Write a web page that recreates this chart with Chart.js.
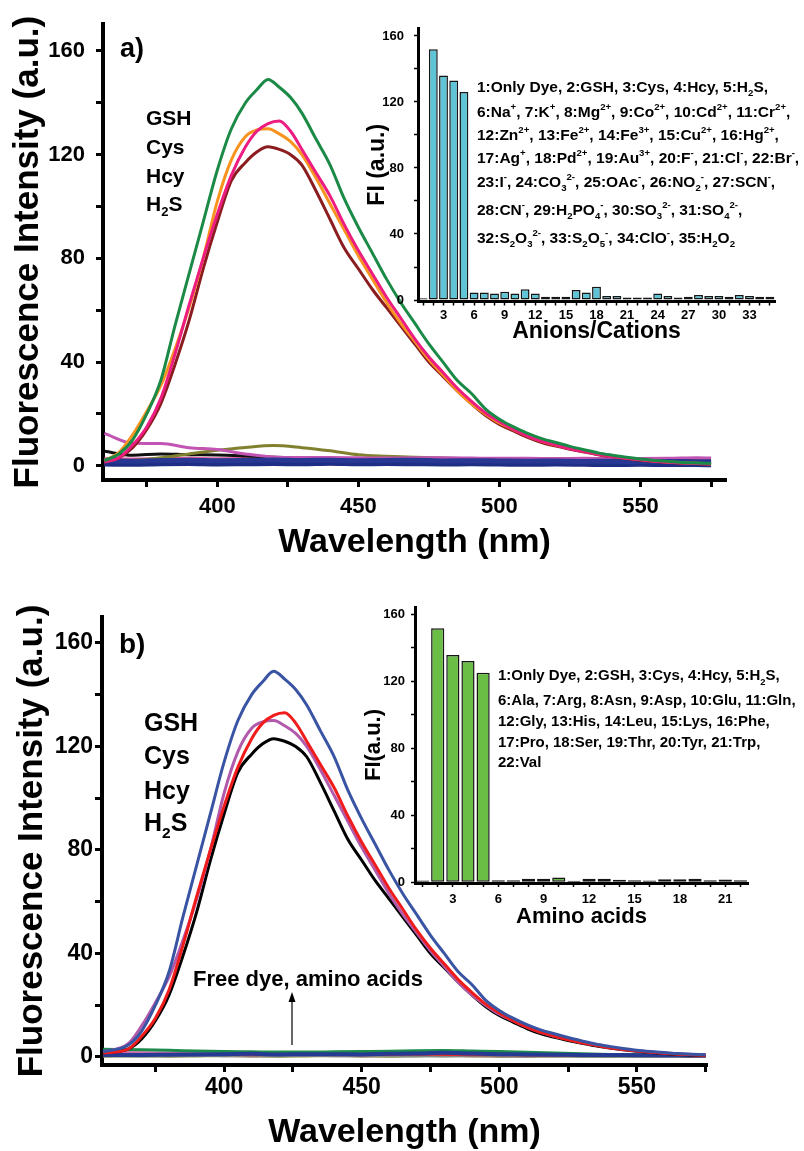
<!DOCTYPE html>
<html>
<head>
<meta charset="utf-8">
<script src="https://cdn.jsdelivr.net/npm/chart.js@4.4.1/dist/chart.umd.min.js"></script>
<style>
  body { margin: 0; background: #fff; }
  #wrap { position: relative; width: 804px; height: 1151px; overflow: hidden; background: #fff; }
  canvas { position: absolute; }
</style>
</head>
<body>
<div id="wrap">
  <canvas id="mainA" width="804" height="575" style="left:0;top:0"></canvas>
  <canvas id="mainB" width="804" height="571" style="left:0;top:580px"></canvas>
  <canvas id="insetA" width="464" height="340" style="left:340px;top:10px"></canvas>
  <canvas id="insetB" width="464" height="340" style="left:340px;top:590px"></canvas>
</div>
<script>
const FONT = '"Liberation Sans", Arial, Helvetica, sans-serif';

// wavelength grid (nm) of the four strong spectra
const wl  = [360,365,370,375,380,385,390,395,400,405,410,414,418,422,426,430,435,440,445,450,455,460,465,470,475,480,485,490,495,500,505,510,515,520,525,530,535,540,545,550,555,560,565,570,575];
// panel b traces start right at the left axis
const wlB = [356,365,370,375,380,385,390,395,400,405,410,414,418,422,426,430,435,440,445,450,455,460,465,470,475,480,485,490,495,500,505,510,515,520,525,530,535,540,545,550,555,560,565,570,575];

const gsh = [2,4.5,10,20,33,54,74,94,114,130,140,145,149,146,142,136,126,116,103,92,82,72,63,55,47,40,33,28,22,18,15,12.5,10.5,9,7.5,6.2,5,4.1,3.3,2.6,2.1,1.7,1.3,1.1,0.9];
const cys = [1.5,3,8,15,26,43,62,80,97,112,123,129,132,133,129,122,113,104,93,83,74,65,57,49,42,36,30,25,20.5,17,14,11.5,9.5,8,6.6,5.5,4.5,3.6,2.9,2.3,1.8,1.4,1.1,0.9,0.7];
const hcy = [2,5,12,21,31,45,61,80,102,118,127,129.5,130,128,125,120,111,101,91,81,72,63,55,48,41,35,29,24,20,16.5,14,11.5,9.5,8,6.8,5.6,4.6,3.7,3,2.4,1.9,1.5,1.2,1,0.8];
const h2s = [1.5,3,7,14,24,39,56,76,94,110,117,121,123,122,120,116,106,95,84,76,68,61,54,47,40,34.5,29,24,19.5,16,13.5,11,9,7.6,6.4,5.3,4.3,3.5,2.8,2.2,1.7,1.3,1,0.8,0.6];

// weak traces (other analytes), coarser grid
const lowWl  = [360,370,380,390,400,410,420,430,440,450,460,470,480,490,500,510,520,530,540,550,560,570,575];
const lowWlB = [356,370,380,390,400,410,420,430,440,450,460,470,480,490,500,510,520,530,540,550,560,570,575];

const lowA_orchid = [12.5,8.7,8.6,7.0,6.3,4.6,3.4,3.2,3.2,3.1,3.0,3.1,3.1,3.0,2.9,2.9,2.8,2.9,2.8,2.8,2.9,3.1,3.0];
const lowA_olive  = [1.5,2.0,3.1,4.6,6.0,7.1,7.8,7.0,5.8,4.3,3.7,3.3,3.0,2.8,2.6,2.4,2.3,2.2,2.0,1.9,1.9,1.8,1.8];
const lowA_black  = [5.6,4.1,4.6,4.3,4.2,3.8,3.3,3.0,2.8,2.6,2.5,2.5,2.4,2.3,2.2,2.1,2.0,2.0,1.9,1.9,1.8,1.8,1.8];
const lowA_pink   = [2.8,2.6,2.7,2.9,2.7,2.8,3.0,2.8,2.9,2.7,2.8,2.9,2.7,2.6,2.7,2.5,2.6,2.4,2.5,2.4,2.6,2.7,2.6];
const lowA_teal   = [1.8,2.0,1.9,2.1,2.0,2.2,2.0,2.1,2.3,2.0,2.1,1.9,2.0,2.2,1.9,2.0,1.8,1.9,1.7,1.8,1.7,1.6,1.6];
const lowA_green  = [2.4,2.2,2.3,2.1,2.4,2.3,2.2,2.5,2.3,2.2,2.4,2.1,2.3,2.2,2.0,2.1,1.9,2.0,1.8,1.9,1.7,1.8,1.7];
const lowA_red    = [0.6,0.8,0.7,0.9,0.7,0.8,1.0,0.7,0.8,0.6,0.9,0.7,0.8,0.6,0.7,0.8,0.6,0.7,0.5,0.6,0.5,0.6,0.5];
const lowA_gray   = [1.2,1.4,1.3,1.5,1.4,1.3,1.6,1.4,1.5,1.3,1.4,1.5,1.3,1.4,1.2,1.3,1.1,1.2,1.1,1.0,1.1,1.0,1.0];
const lowA_navy1  = [2.0,1.8,2.1,2.2,2.0,2.1,2.3,2.1,2.2,2.0,2.1,2.2,1.9,2.0,1.9,1.8,1.9,1.7,1.8,1.6,1.7,1.6,1.6];
const lowA_navy2  = [0.7,0.6,0.8,0.9,0.7,0.8,0.9,0.8,1.0,0.8,0.9,0.8,0.7,0.8,0.7,0.6,0.7,0.6,0.5,0.6,0.5,0.5,0.4];

const lowB_green = [3.0,2.8,2.6,2.3,2.1,2.0,1.9,1.9,2.0,2.1,2.2,2.4,2.5,2.3,2.1,1.8,1.5,1.2,1.0,0.9,0.8,0.7,0.7];
const lowB_pink  = [1.8,1.6,1.5,1.4,1.5,1.6,1.5,1.4,1.6,1.7,1.8,1.9,1.8,1.6,1.4,1.3,1.2,1.0,0.9,0.8,0.8,0.7,0.7];
const lowB_red   = [1.0,0.9,1.0,1.1,1.0,0.9,1.0,1.1,1.0,0.9,1.0,1.1,1.0,0.9,0.9,0.8,0.8,0.7,0.7,0.6,0.6,0.5,0.5];
const lowB_gray  = [0.5,0.4,0.5,0.6,0.5,0.4,0.5,0.6,0.5,0.4,0.5,0.5,0.4,0.5,0.4,0.3,0.4,0.3,0.3,0.3,0.2,0.2,0.2];
const lowB_olive = [0.3,0.4,0.3,0.4,0.5,0.4,0.3,0.4,0.5,0.4,0.3,0.4,0.5,0.4,0.3,0.3,0.4,0.3,0.2,0.3,0.2,0.2,0.2];
const lowB_navy  = [0.8,0.8,0.9,1.0,1.1,1.2,1.0,1.1,1.1,1.0,1.2,1.3,1.6,1.3,1.1,1.0,0.9,0.8,0.8,0.7,0.7,0.6,0.6];

// inset bar charts (FI at peak)
const ionLabels = ['1','2','3','4','5','6','7','8','9','10','11','12','13','14','15','16','17','18','19','20','21','22','23','24','25','26','27','28','29','30','31','32','33','34','35'];
const ionFI = [1,152,136,133,126,4.5,4.5,4,5,4,6.5,4,2,2,2,6,4.5,8,2.5,2.5,1.5,1.5,1.5,4,2.5,1.5,2,3,2.5,2.5,2,3,2.5,2,2];
const aminoLabels = ['1','2','3','4','5','6','7','8','9','10','11','12','13','14','15','16','17','18','19','20','21','22'];
const aminoFI = [1,151.5,135.5,132,125,1.2,1.2,2,2,2.8,0.8,2,2,1.5,1.2,1,1.8,1.8,2,1.2,1.6,1.2];

const ionText = [
  '1:Only Dye, 2:GSH, 3:Cys, 4:Hcy, 5:H_{2}S,',
  '6:Na^{+}, 7:K^{+}, 8:Mg^{2+}, 9:Co^{2+}, 10:Cd^{2+}, 11:Cr^{2+},',
  '12:Zn^{2+}, 13:Fe^{2+}, 14:Fe^{3+}, 15:Cu^{2+}, 16:Hg^{2+},',
  '17:Ag^{+}, 18:Pd^{2+}, 19:Au^{3+}, 20:F^{-}, 21:Cl^{-}, 22:Br^{-},',
  '23:I^{-}, 24:CO_{3}^{2-}, 25:OAc^{-}, 26:NO_{2}^{-}, 27:SCN^{-},',
  '28:CN^{-}, 29:H_{2}PO_{4}^{-}, 30:SO_{3}^{2-}, 31:SO_{4}^{2-},',
  '32:S_{2}O_{3}^{2-}, 33:S_{2}O_{5}^{-}, 34:ClO^{-}, 35:H_{2}O_{2}'
];
const aminoText = [
  '1:Only Dye, 2:GSH, 3:Cys, 4:Hcy, 5:H_{2}S,',
  '6:Ala, 7:Arg, 8:Asn, 9:Asp, 10:Glu, 11:Gln,',
  '12:Gly, 13:His, 14:Leu, 15:Lys, 16:Phe,',
  '17:Pro, 18:Ser, 19:Thr, 20:Tyr, 21:Trp,',
  '22:Val'
];
const analytes = ['GSH', 'Cys', 'Hcy', 'H_{2}S'];

Chart.defaults.font.family = FONT;
Chart.defaults.font.weight = 'bold';
Chart.defaults.color = '#000';

function pts(xs, ys) {
  return xs.map((x, i) => ({ x: x, y: ys[i] }));
}

function line(xs, ys, color, width) {
  return {
    data: pts(xs, ys),
    borderColor: color,
    borderWidth: width || 3,
    pointRadius: 0,
    fill: false,
    cubicInterpolationMode: 'monotone'
  };
}

// text with _{sub} and ^{sup} parts
function drawRich(ctx, str, x, y, size) {
  let cx = x;
  let i = 0;
  while (i < str.length) {
    let seg, mode = 0;
    const ch = str[i];
    if ((ch === '_' || ch === '^') && str[i + 1] === '{') {
      const end = str.indexOf('}', i);
      seg = str.slice(i + 2, end);
      mode = ch === '_' ? 1 : -1;
      i = end + 1;
    } else {
      let j = i;
      while (j < str.length && !((str[j] === '_' || str[j] === '^') && str[j + 1] === '{')) j++;
      seg = str.slice(i, j);
      i = j;
    }
    const fs = mode ? size * 0.62 : size;
    ctx.font = 'bold ' + fs + 'px ' + FONT;
    const dy = mode === 1 ? size * 0.28 : (mode === -1 ? -size * 0.42 : 0);
    ctx.fillText(seg, cx, y + dy);
    cx += ctx.measureText(seg).width;
  }
}

function textPlugin(items, offX, offY, extra) {
  return {
    id: 'freeText',
    afterDraw(chart) {
      const ctx = chart.ctx;
      ctx.save();
      ctx.fillStyle = '#000';
      ctx.textAlign = 'left';
      ctx.textBaseline = 'alphabetic';
      items.forEach(t => drawRich(ctx, t.text, t.x - offX, t.y - offY + t.size * 0.36, t.size));
      if (extra) extra(ctx);
      ctx.restore();
    }
  };
}

function mainChart(id, cfg) {
  return new Chart(document.getElementById(id), {
    type: 'line',
    data: { datasets: cfg.datasets },
    options: {
      responsive: false,
      animation: false,
      events: [],
      layout: { padding: { left: 0, top: cfg.top, right: cfg.right, bottom: 0 } },
      plugins: { legend: { display: false }, tooltip: { enabled: false } },
      scales: {
        x: {
          type: 'linear',
          min: cfg.xMin,
          max: cfg.xMax,
          afterFit: s => { s.height = cfg.xH; },
          border: { display: true, color: '#000', width: 4 },
          grid: { drawOnChartArea: false, drawTicks: true, tickLength: 7, tickWidth: 3, tickColor: '#000' },
          ticks: {
            stepSize: 25, includeBounds: false, autoSkip: false, maxRotation: 0,
            padding: cfg.xTickPad, color: '#000',
            font: { size: cfg.tickSize, weight: 'bold' },
            callback: v => (v % 50 === 0 ? v : '')
          },
          title: {
            display: true, text: 'Wavelength (nm)', color: '#000',
            font: { size: cfg.titleSize, weight: 'bold', lineHeight: 1 },
            padding: { top: 0, bottom: cfg.xTitlePad }
          }
        },
        y: {
          min: cfg.yMin,
          max: cfg.yMax,
          afterFit: s => { s.width = cfg.yW; },
          border: { display: true, color: '#000', width: 4 },
          grid: { drawOnChartArea: false, drawTicks: true, tickLength: 7, tickWidth: 3, tickColor: '#000' },
          ticks: {
            stepSize: 20, includeBounds: false, autoSkip: false,
            padding: cfg.yTickPad, color: '#000',
            font: { size: cfg.tickSize, weight: 'bold' },
            callback: v => (v % 40 === 0 ? v : '')
          },
          title: {
            display: true, text: 'Fluorescence Intensity (a.u.)', color: '#000',
            font: { size: cfg.yTitleSize, weight: 'bold', lineHeight: 1 },
            padding: { top: cfg.yTitlePad, bottom: 0 }
          }
        }
      }
    },
    plugins: [textPlugin(cfg.texts, 0, cfg.offY, cfg.extra)]
  });
}

function insetChart(id, cfg) {
  return new Chart(document.getElementById(id), {
    type: 'bar',
    data: {
      labels: cfg.labels,
      datasets: [{
        data: cfg.values,
        backgroundColor: cfg.color,
        borderColor: '#151515',
        borderWidth: 1.5,
        borderSkipped: false,
        barPercentage: 0.87,
        categoryPercentage: 1.0
      }]
    },
    options: {
      responsive: false,
      animation: false,
      events: [],
      layout: { padding: { left: 0, top: cfg.top, right: cfg.right, bottom: 0 } },
      plugins: { legend: { display: false }, tooltip: { enabled: false } },
      scales: {
        x: {
          afterFit: s => { s.height = cfg.xH; },
          border: { display: true, color: '#000', width: 3 },
          grid: { offset: false, drawOnChartArea: false, drawTicks: true, tickLength: 4, tickWidth: 1.5, tickColor: '#000' },
          ticks: {
            autoSkip: false, maxRotation: 0, padding: cfg.xTickPad, color: '#000',
            font: { size: 13, weight: 'bold' },
            callback: (v, i) => ((i + 1) % 3 === 0 ? String(i + 1) : '')
          },
          title: {
            display: true, text: cfg.xTitle, color: '#000',
            font: { size: cfg.titleSize, weight: 'bold', lineHeight: 1 },
            padding: { top: 0, bottom: cfg.xTitlePad }
          }
        },
        y: {
          min: cfg.yMin,
          max: cfg.yMax,
          afterFit: s => { s.width = cfg.yW; },
          border: { display: true, color: '#000', width: 3 },
          grid: { drawOnChartArea: false, drawTicks: true, tickLength: 4, tickWidth: 1.5, tickColor: '#000' },
          ticks: {
            stepSize: 20, includeBounds: false, autoSkip: false,
            padding: cfg.yTickPad, color: '#000',
            font: { size: 13, weight: 'bold' },
            callback: v => (v % 40 === 0 ? v : '')
          },
          title: {
            display: true, text: cfg.yTitle, color: '#000',
            font: { size: cfg.titleSize, weight: 'bold', lineHeight: 1 },
            padding: { top: cfg.yTitlePad, bottom: 0 }
          }
        }
      }
    },
    plugins: [textPlugin(cfg.texts, 340, cfg.offY)]
  });
}

// ---- panel a ----
const textsA = [{ text: 'a)', x: 120, y: 47, size: 27 }];
[117, 146, 175, 203].forEach((y, i) => textsA.push({ text: analytes[i], x: 146, y: y, size: 21 }));

mainChart('mainA', {
  datasets: [
    line(wl, gsh, '#1b8a47'),
    line(wl, cys, '#ec1c80'),
    line(wl, hcy, '#f7931e'),
    line(wl, h2s, '#8b1c1f'),
    line(lowWl, lowA_navy1, '#283792', 5),
    line(lowWl, lowA_navy2, '#1f2e85', 5),
    line(lowWl, lowA_orchid, '#c255b4'),
    line(lowWl, lowA_olive, '#80802e'),
    line(lowWl, lowA_black, '#111111'),
    line(lowWl, lowA_pink, '#e6589c'),
    line(lowWl, lowA_teal, '#00a0a0'),
    line(lowWl, lowA_green, '#2a9a4a'),
    line(lowWl, lowA_red, '#e3262e'),
    line(lowWl, lowA_gray, '#8a8a8a')
  ],
  top: 20, right: 78, xH: 95, yW: 103,
  xMin: 359.5, xMax: 580.3, yMin: -5.46, yMax: 170.3,
  tickSize: 22, xTickPad: 7, yTickPad: 11,
  titleSize: 34, xTitlePad: 15, yTitleSize: 35, yTitlePad: 11,
  texts: textsA, offY: 0
});

// ---- panel b ----
const textsB = [
  { text: 'b)', x: 119, y: 643, size: 28 },
  { text: 'Free dye, amino acids', x: 193, y: 978, size: 22 }
];
[722, 755, 790, 822].forEach((y, i) => textsB.push({ text: analytes[i], x: 144, y: y, size: 25 }));

mainChart('mainB', {
  datasets: [
    line(wlB, gsh, '#3a54a4'),
    line(wlB, cys, '#f01c1c'),
    line(wlB, hcy, '#b15aab'),
    line(wlB, h2s, '#000000'),
    line(lowWlB, lowB_navy, '#253a92', 4),
    line(lowWlB, lowB_green, '#1b8a4a'),
    line(lowWlB, lowB_pink, '#d36aa8'),
    line(lowWlB, lowB_red, '#e0282c'),
    line(lowWlB, lowB_gray, '#888888'),
    line(lowWlB, lowB_olive, '#8a8a3a')
  ],
  top: 37, right: 97, xH: 86, yW: 102,
  xMin: 355.6, xMax: 575.5, yMin: -3.1, yMax: 170,
  tickSize: 23, xTickPad: 2, yTickPad: 2,
  titleSize: 34, xTitlePad: 1, yTitleSize: 35, yTitlePad: 15,
  texts: textsB, offY: 580,
  extra: ctx => {
    // arrow pointing up to the label
    ctx.strokeStyle = '#000';
    ctx.lineWidth = 1.2;
    ctx.beginPath();
    ctx.moveTo(292, 1045 - 580);
    ctx.lineTo(292, 1000 - 580);
    ctx.stroke();
    ctx.beginPath();
    ctx.moveTo(292, 992 - 580);
    ctx.lineTo(288.5, 1002 - 580);
    ctx.lineTo(295.5, 1002 - 580);
    ctx.closePath();
    ctx.fill();
  }
});

// ---- insets ----
insetChart('insetA', {
  labels: ionLabels, values: ionFI, color: '#5ec4d6',
  top: 18, right: 29, xH: 48.5, yW: 78,
  yMin: -0.9, yMax: 164.8,
  xTickPad: 2, yTickPad: 10,
  titleSize: 23, xTitle: 'Anions/Cations', xTitlePad: 6.5, yTitle: 'FI (a.u.)', yTitlePad: 26.5,
  texts: ionText.map((t, i) => ({ text: t, x: 477, y: [86, 111, 134, 157, 181, 209, 237][i], size: 15.5 })),
  offY: 10
});

insetChart('insetB', {
  labels: aminoLabels, values: aminoFI, color: '#6abd45',
  top: 17, right: 56, xH: 47, yW: 75,
  yMin: -0.5, yMax: 164.2,
  xTickPad: 5, yTickPad: 6,
  titleSize: 22, xTitle: 'Amino acids', xTitlePad: 2, yTitle: 'FI(a.u.)', yTitlePad: 23,
  texts: aminoText.map((t, i) => ({ text: t, x: 498, y: [675, 700, 721, 742, 762][i], size: 15 })),
  offY: 590
});
</script>
</body>
</html>
